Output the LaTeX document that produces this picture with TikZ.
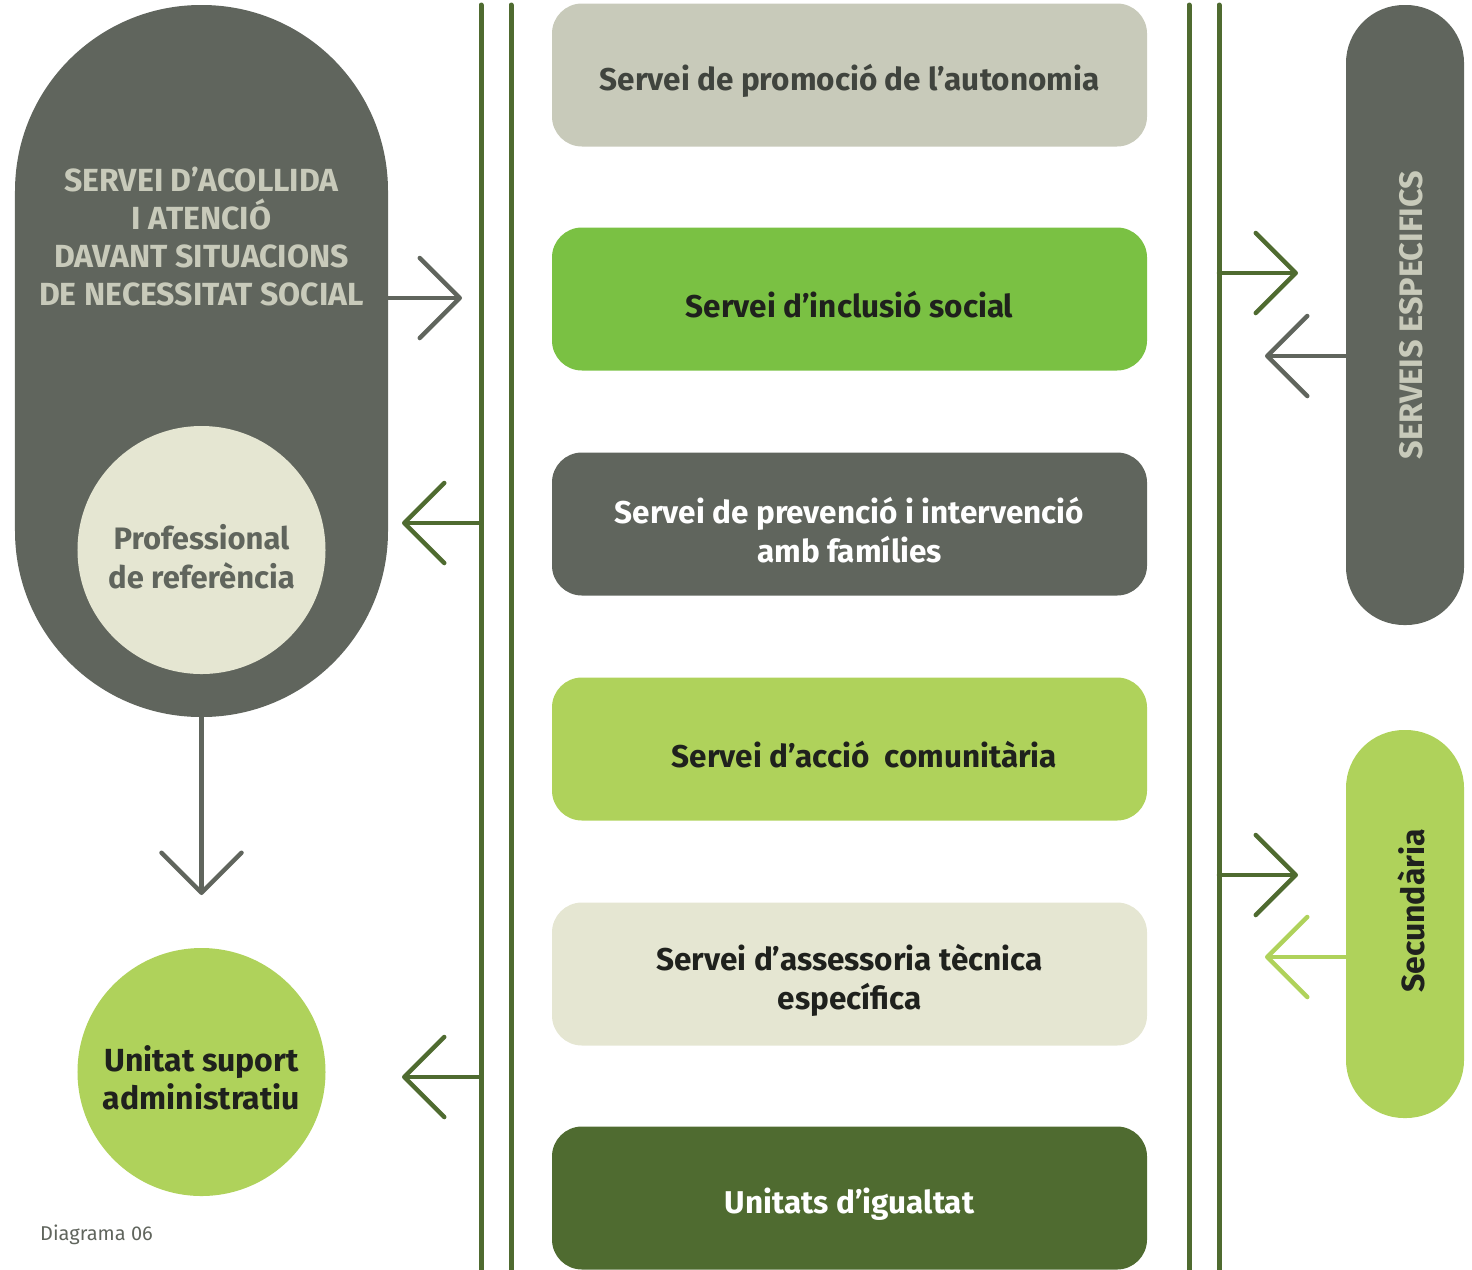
\documentclass[tikz,border=0pt]{standalone}
\usepackage{fontspec}
\setmainfont{Fira Sans}
\usetikzlibrary{arrows.meta}
\definecolor{slate}{HTML}{60655D}
\definecolor{pale}{HTML}{C8CABA}
\definecolor{cream}{HTML}{E5E6D2}
\definecolor{leaf}{HTML}{7AC143}
\definecolor{lime}{HTML}{AFD25B}
\definecolor{olive}{HTML}{4F6B30}
\definecolor{ink}{HTML}{1F211D}
\definecolor{dim}{HTML}{40443E}
\begin{document}
\begin{tikzpicture}[x=1bp,y=-1bp,
  boxtxt/.style={font=\fontsize{31.5bp}{39bp}\selectfont\bfseries, align=center},
  servbox/.style={rounded corners=30bp, minimum width=595bp, minimum height=143bp, inner sep=0pt},
  pill/.style={rounded corners=58bp, inner sep=0pt, minimum width=118bp},
  disc/.style={circle, inner sep=0pt, minimum size=248bp},
  rail/.style={olive, line width=5bp, line cap=round},
  flow/.style={line width=4.5bp, line cap=round, -{Straight Barb[length=40bp,width=80bp,round]}}
]
\useasboundingbox (0,0) rectangle (1472,1269);

% vertical rails
\draw[rail] (481,5) -- (481,1275);
\draw[rail] (511,5) -- (511,1275);
\draw[rail] (1189,5) -- (1189,1275);
\draw[rail] (1219,5) -- (1219,1275);

% left column
\node[fill=slate, rounded corners=186bp, minimum width=373bp, minimum height=712bp, inner sep=0pt] (acollida) at (201.5,361) {};
\node[boxtxt, text=pale, font=\fontsize{32bp}{38bp}\selectfont\bfseries] (acollidatxt) at (201.5,237)
  {SERVEI D’ACOLLIDA\\I ATENCIÓ\\DAVANT SITUACIONS\\DE NECESSITAT SOCIAL};
\node[disc, fill=cream] (referent) at (201.5,550) {};
\node[boxtxt, text=slate, font=\fontsize{31bp}{39bp}\selectfont\bfseries] (referenttxt) at (201.5,557) {Professional\\de referència};
\node[disc, fill=lime] (suport) at (201.5,1072) {};
\node[boxtxt, text=ink, font=\fontsize{32bp}{38bp}\selectfont\bfseries] (suporttxt) at (201.5,1078) {Unitat suport\\administratiu};
\node[text=slate, font=\fontsize{20bp}{22bp}\selectfont, anchor=west, inner sep=0pt] (caption) at (40,1235) {Diagrama 06};

% service boxes
\node[servbox, fill=pale] (promocio) at (849.5,75) {};
\node[servbox, fill=leaf] (inclusio) at (849.5,299) {};
\node[servbox, fill=slate] (prevencio) at (849.5,524) {};
\node[servbox, fill=lime] (comunitaria) at (849.5,749) {};
\node[servbox, fill=cream] (assessoria) at (849.5,974) {};
\node[servbox, fill=olive] (igualtat) at (849.5,1198) {};

% box labels, set a little below each box centre
\node[boxtxt, text=dim] (promociotxt) at ([yshift=-6bp]promocio.center) {Servei de promoció de l’autonomia};
\node[boxtxt, text=ink] (inclusiotxt) at ([yshift=-6bp]inclusio.center) {Servei d’inclusió social};
\node[boxtxt, text=white] (prevenciotxt) at ([yshift=-6bp]prevencio.center) {Servei de prevenció i intervenció\\amb famílies};
\node[boxtxt, text=ink] (comunitariatxt) at ([xshift=15bp,yshift=-6bp]comunitaria.center) {Servei d’acció\ \ comunitària};
\node[boxtxt, text=ink] (assessoriatxt) at ([yshift=-6bp]assessoria.center) {Servei d’assessoria tècnica\\específica};
\node[boxtxt, text=white] (igualtattxt) at ([yshift=-6bp]igualtat.center) {Unitats d’igualtat};

% right column
\node[pill, fill=slate, minimum height=620bp] (especifics) at (1405,315) {};
\node[boxtxt, text=pale, rotate=90, font=\fontsize{32.5bp}{39bp}\selectfont\bfseries] (especificstxt) at (1411,315) {SERVEIS ESPECIFICS};
\node[pill, fill=lime, minimum height=388bp] (secundaria) at (1405,924) {};
\node[boxtxt, text=ink, rotate=90, font=\fontsize{32bp}{39bp}\selectfont\bfseries] (secundariatxt) at (1411,911) {Secundària};

% connector end points
\coordinate (aOut) at (388,298);
\coordinate (aIn) at (462,298);
\coordinate (dOut) at (201.5,717);
\coordinate (dIn) at (201.5,895);
\coordinate (l1Out) at (481,523);
\coordinate (l1In) at (402,523);
\coordinate (l2Out) at (481,1077);
\coordinate (l2In) at (402,1077);
\coordinate (r1Out) at (1219,273);
\coordinate (r1In) at (1298,273);
\coordinate (r2Out) at (1219,875);
\coordinate (r2In) at (1298,875);
\coordinate (e1Out) at (1346,356);
\coordinate (e1In) at (1265,356);
\coordinate (e2Out) at (1346,957);
\coordinate (e2In) at (1265,957);

% connectors
\draw[flow, slate] (aOut) -- (aIn);
\draw[flow, slate] (dOut) -- (dIn);
\draw[flow, olive] (l1Out) -- (l1In);
\draw[flow, olive] (l2Out) -- (l2In);
\draw[flow, olive] (r1Out) -- (r1In);
\draw[flow, olive] (r2Out) -- (r2In);
\draw[flow, slate] (e1Out) -- (e1In);
\draw[flow, lime] (e2Out) -- (e2In);
\end{tikzpicture}
\end{document}
